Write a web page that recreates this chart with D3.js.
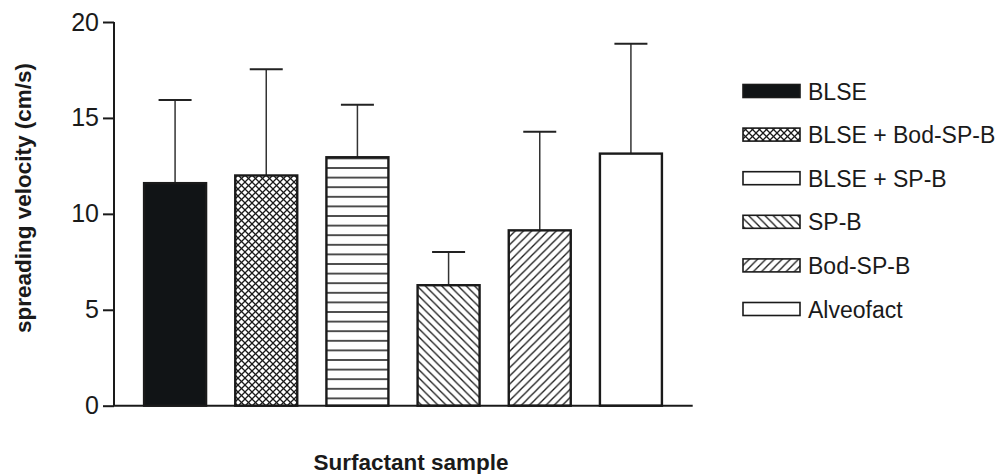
<!DOCTYPE html>
<html>
<head>
<meta charset="utf-8">
<script src="https://cdn.jsdelivr.net/npm/d3@7"></script>
<style>
  html, body { margin: 0; padding: 0; background: #fff; }
  svg { display: block; }
  text { font-family: "Liberation Sans", Arial, Helvetica, sans-serif; fill: #1a1a1a; }
</style>
</head>
<body>
<svg id="chart" width="998" height="474"></svg>
<script>
// Surfactant samples and their mean spreading velocity (cm/s) with SD
const categories = ["BLSE", "BLSE + Bod-SP-B", "BLSE + SP-B", "SP-B", "Bod-SP-B", "Alveofact"];
const means = [11.6, 12.0, 12.95, 6.28, 9.14, 13.14];
const sds = [4.34, 5.54, 2.74, 1.73, 5.14, 5.72];
const yTicks = [0, 5, 10, 15, 20];
const fills = ["solid", "cross", "horiz", "back", "fwd", "none"];

const svg = d3.select("#chart");
const ink = "#1a1a1a";

// Hatch patterns for the bar fills
const defs = svg.append("defs");
function pattern(id, size, draw) {
  const p = defs.append("pattern").attr("id", id)
    .attr("patternUnits", "userSpaceOnUse")
    .attr("width", size).attr("height", size);
  p.append("rect").attr("width", size).attr("height", size).attr("fill", "#fff");
  draw(p, size);
}
pattern("cross", 7, (p, s) => {
  p.append("path").attr("d", `M0,0L${s},${s}M${-s},0L${s},${2*s}M0,${-s}L${2*s},${s}`)
    .attr("stroke", ink).attr("stroke-width", 1.3);
  p.append("path").attr("d", `M0,${s}L${s},0M${-s},${s}L${s},${-s}M0,${2*s}L${2*s},0`)
    .attr("stroke", ink).attr("stroke-width", 1.3);
});
pattern("horiz", 9.6, (p, s) => {
  p.append("line").attr("x1", 0).attr("x2", s).attr("y1", s / 2).attr("y2", s / 2)
    .attr("stroke", ink).attr("stroke-width", 1.5);
});
pattern("back", 8.2, (p, s) => {
  p.append("path").attr("d", `M0,0L${s},${s}M${-s},0L${s},${2*s}M0,${-s}L${2*s},${s}`)
    .attr("stroke", ink).attr("stroke-width", 1.3);
});
pattern("fwd", 8.2, (p, s) => {
  p.append("path").attr("d", `M0,${s}L${s},0M${-s},${s}L${s},${-s}M0,${2*s}L${2*s},0`)
    .attr("stroke", ink).attr("stroke-width", 1.3);
});
function fillOf(kind) {
  if (kind === "solid") return "#111416";
  if (kind === "none") return "#fff";
  return `url(#${kind})`;
}

// Scales
const x = d3.scaleBand().domain(categories).range([114, 692]).paddingInner(0.32).paddingOuter(0.33);
const y = d3.scaleLinear().domain([0, 20]).range([405.7, 22]);

// Bars with SD whiskers
const g = svg.append("g");
const errG = g.append("g");
categories.forEach((c, i) => {
  const cx = x(c) + x.bandwidth() / 2;
  errG.append("line")
    .attr("x1", cx).attr("x2", cx)
    .attr("y1", y(means[i])).attr("y2", y(means[i] + sds[i]))
    .attr("stroke", "#333").attr("stroke-width", 1.5);
  errG.append("line")
    .attr("x1", cx - 16.5).attr("x2", cx + 16.5)
    .attr("y1", y(means[i] + sds[i])).attr("y2", y(means[i] + sds[i]))
    .attr("stroke", "#222").attr("stroke-width", 2);
});
g.selectAll("rect.bar").data(categories).join("rect")
  .attr("class", "bar")
  .attr("x", d => x(d))
  .attr("width", x.bandwidth())
  .attr("y", (d, i) => y(means[i]))
  .attr("height", (d, i) => y(0) - y(means[i]))
  .attr("fill", (d, i) => fillOf(fills[i]))
  .attr("stroke", ink).attr("stroke-width", 2.4);

// Y axis
const yAxis = svg.append("g").attr("transform", "translate(114,0)")
  .call(d3.axisLeft(y).tickValues(yTicks).tickSize(11).tickPadding(4).tickFormat(d3.format("d")));
yAxis.select(".domain").attr("stroke", ink).attr("stroke-width", 2).attr("d", `M0,${y(20)}V${y(0)}`);
yAxis.selectAll(".tick line").attr("stroke", ink).attr("stroke-width", 2);
yAxis.selectAll(".tick text").attr("font-size", 25).attr("fill", ink)
  .style("font-family", '"Liberation Sans", Arial, sans-serif');

// X axis baseline
svg.append("line").attr("x1", 113).attr("x2", 692.7).attr("y1", y(0)).attr("y2", y(0))
  .attr("stroke", ink).attr("stroke-width", 2);

// Axis titles
svg.append("text")
  .attr("transform", `translate(31,198) rotate(-90)`)
  .attr("text-anchor", "middle").attr("font-size", 22.5).attr("font-weight", "bold")
  .text("spreading velocity (cm/s)");
svg.append("text")
  .attr("x", 411).attr("y", 470)
  .attr("text-anchor", "middle").attr("font-size", 22.5).attr("font-weight", "bold")
  .text("Surfactant sample");

// Legend
const legendFills = ["solid", "cross", "none", "back", "fwd", "none"];
const leg = svg.append("g");
categories.forEach((c, i) => {
  const cy = 91 + i * 43.6;
  leg.append("rect")
    .attr("x", 743).attr("y", cy - 6.5).attr("width", 57).attr("height", 13)
    .attr("fill", fillOf(legendFills[i]))
    .attr("stroke", ink).attr("stroke-width", 1.6);
  leg.append("text")
    .attr("x", 808).attr("y", cy + 8.5)
    .attr("font-size", 23)
    .text(c);
});
</script>
</body>
</html>
